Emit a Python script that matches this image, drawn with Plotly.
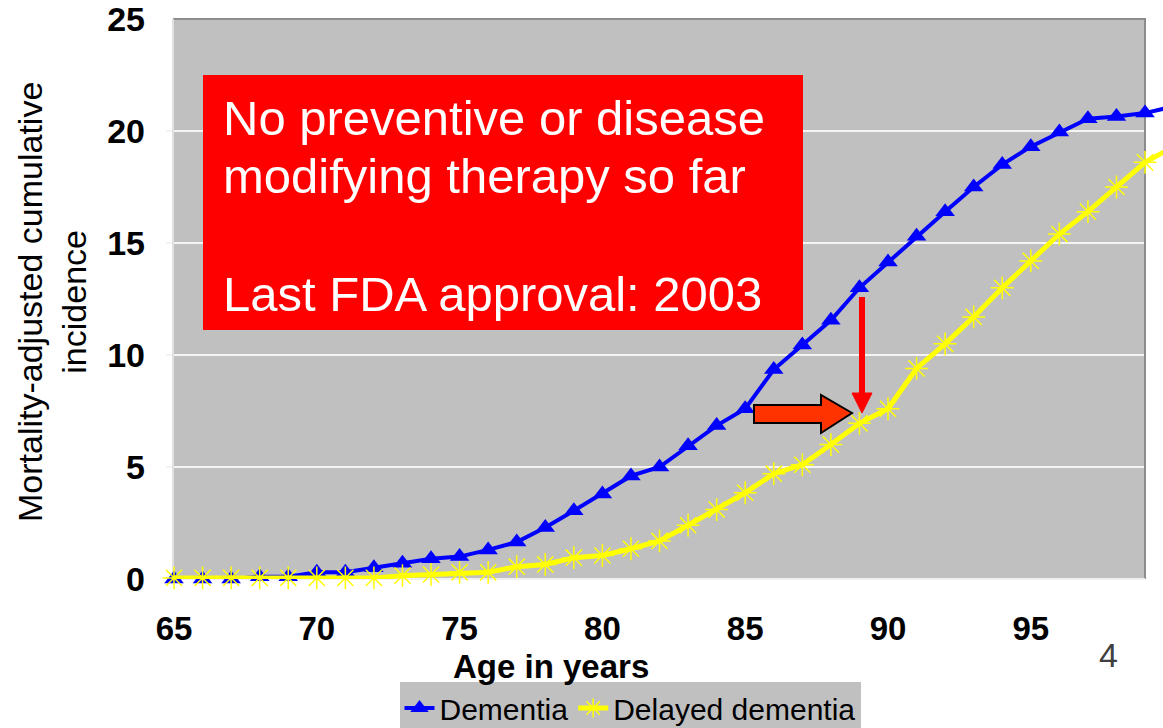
import plotly.graph_objects as go

# ---------------- data ----------------
ages = list(range(65, 101))
dementia = [0.0, 0.0, 0.0, 0.1, 0.1, 0.3, 0.3, 0.5, 0.7, 0.9, 1.0, 1.3, 1.65, 2.3,
            3.05, 3.8, 4.6, 5.0, 5.95, 6.85, 7.6, 9.35, 10.45, 11.55, 13.0, 14.15,
            15.3, 16.4, 17.5, 18.5, 19.3, 19.95, 20.55, 20.65, 20.8, 21.1]
delayed_dementia = [0.05, 0.05, 0.05, 0.05, 0.05, 0.05, 0.05, 0.05, 0.15, 0.2, 0.3,
                    0.3, 0.55, 0.65, 0.95, 1.05, 1.35, 1.7, 2.4, 3.1, 3.85, 4.7, 5.1,
                    6.0, 6.95, 7.6, 9.4, 10.5, 11.7, 13.0, 14.2, 15.4, 16.4, 17.5,
                    18.6, 19.3]
series_names = ["Dementia", "Delayed dementia"]
x_ticks = [65, 70, 75, 80, 85, 90, 95]
y_ticks = [0, 5, 10, 15, 20, 25]
box_lines = ["No preventive or disease", "modifying therapy so far", "Last FDA approval: 2003"]

# ---------------- layout geometry ----------------
W, H = 1163, 728
ML, MT, MB, MR = 174, 19, 149, 0
PW = W - ML - MR
PH = H - MT - MB


def X(p):
    return (p - ML) / PW


def Y(p):
    return (H - MB - p) / PH


FONT = "Arial, Liberation Sans, sans-serif"

fig = go.Figure()
fig.add_trace(go.Scatter(
    x=ages, y=dementia, name=series_names[0], mode="lines+markers",
    line=dict(color="#0000FF", width=4),
    marker=dict(symbol="triangle-up", size=17, color="#0000FF"),
    cliponaxis=False))
fig.add_trace(go.Scatter(
    x=ages, y=delayed_dementia, name=series_names[1], mode="lines+markers",
    line=dict(color="#FFFF00", width=5),
    marker=dict(symbol="asterisk-open", size=19, color="#FFFF00",
                line=dict(color="#FFFF00", width=1.5)),
    cliponaxis=False))

shapes = []
# gray plot area (ends at age 99)
shapes.append(dict(type="rect", xref="paper", yref="paper", x0=X(173), x1=X(1145),
                   y0=0, y1=1, fillcolor="#C0C0C0", line=dict(width=0), layer="below"))
# white gridlines
for v in y_ticks[1:-1]:
    shapes.append(dict(type="line", xref="paper", yref="y", x0=X(166), x1=X(1145),
                       y0=v, y1=v, line=dict(color="#F4F4F4", width=2), layer="below"))
# borders
shapes.append(dict(type="line", xref="paper", yref="paper", x0=X(173), x1=X(1146),
                   y0=1, y1=1, line=dict(color="#8C8C8C", width=2), layer="below"))
shapes.append(dict(type="line", xref="paper", yref="paper", x0=X(1145), x1=X(1145),
                   y0=0, y1=1, line=dict(color="#8C8C8C", width=2), layer="below"))
shapes.append(dict(type="line", xref="paper", yref="paper", x0=X(173), x1=X(173),
                   y0=0, y1=1, line=dict(color="#E0E0E0", width=2), layer="below"))
shapes.append(dict(type="line", xref="paper", yref="paper", x0=X(173), x1=X(1145),
                   y0=Y(579), y1=Y(579), line=dict(color="#F0F0F0", width=2), layer="below"))
# red text box
shapes.append(dict(type="rect", xref="paper", yref="paper", x0=X(203), x1=X(803),
                   y0=Y(330), y1=Y(75), fillcolor="#FF0000", line=dict(width=0), layer="above"))
# red vertical arrow
shapes.append(dict(type="line", xref="paper", yref="paper", x0=X(862), x1=X(862),
                   y0=Y(297), y1=Y(396), line=dict(color="#FF0000", width=6), layer="above"))
shapes.append(dict(type="path", xref="paper", yref="paper",
                   path="M {} {} L {} {} L {} {} Z".format(X(852), Y(393), X(872), Y(393), X(862), Y(413)),
                   fillcolor="#FF0000", line=dict(color="#FF0000", width=1), layer="above"))
# block arrow
pts = [(754, 405), (821, 405), (821, 395), (852, 413), (821, 433), (821, 423), (754, 423)]
path = "M " + " L ".join("{} {}".format(X(a), Y(b)) for a, b in pts) + " Z"
shapes.append(dict(type="path", xref="paper", yref="paper", path=path,
                   fillcolor="#FF3300", line=dict(color="#000000", width=2), layer="above"))

annotations = []
for txt, yc in zip(box_lines, [118, 176, 294]):
    annotations.append(dict(text=txt, xref="paper", yref="paper", x=X(221), y=Y(yc),
                            xanchor="left", yanchor="middle", showarrow=False,
                            font=dict(family=FONT, size=49, color="#FFFFFF")))
annotations.append(dict(text="Mortality-adjusted cumulative<br>incidence", xref="paper", yref="paper",
                        x=X(52), y=Y(302), xanchor="center", yanchor="middle", showarrow=False,
                        textangle=-90, font=dict(family=FONT, size=34, color="#000000")))
annotations.append(dict(text="<b>Age in years</b>", xref="paper", yref="paper",
                        x=X(551), y=Y(667), xanchor="center", yanchor="middle", showarrow=False,
                        font=dict(family=FONT, size=33, color="#000000")))
annotations.append(dict(text="4", xref="paper", yref="paper",
                        x=X(1108), y=Y(655), xanchor="center", yanchor="middle", showarrow=False,
                        font=dict(family=FONT, size=34, color="#404040")))

fig.update_layout(
    width=W, height=H,
    margin=dict(l=ML, r=MR, t=MT, b=MB, pad=0, autoexpand=False),
    paper_bgcolor="#FFFFFF", plot_bgcolor="#FFFFFF",
    font=dict(family=FONT, color="#000000"),
    shapes=shapes, annotations=annotations,
    showlegend=True,
    legend=dict(orientation="h", x=X(630), xanchor="center", y=Y(734), yanchor="bottom",
                bgcolor="#C0C0C0", borderwidth=0,
                font=dict(family=FONT, size=30, color="#000000"),
                itemwidth=30, tracegroupgap=0),
    xaxis=dict(range=[65, 65 + PW / 28.56], tickvals=x_ticks,
               ticktext=["<b>%d</b>" % v for v in x_ticks],
               showgrid=False, zeroline=False, showline=False, ticks="",
               ticklabelstandoff=27, ticklabeloverflow="allow",
               tickfont=dict(family=FONT, size=33, color="#000000")),
    yaxis=dict(range=[0, 25], tickvals=y_ticks,
               ticktext=["<b>%d</b>" % v for v in y_ticks],
               showgrid=False, zeroline=False, showline=False, ticks="",
               ticklabelstandoff=28, ticklabeloverflow="allow",
               tickfont=dict(family=FONT, size=34, color="#000000")),
)

fig.write_html("out.html", config={"displayModeBar": False},
               post_script="document.body.style.margin='0';document.body.style.padding='0';"
                           "document.documentElement.style.overflow='hidden';")
